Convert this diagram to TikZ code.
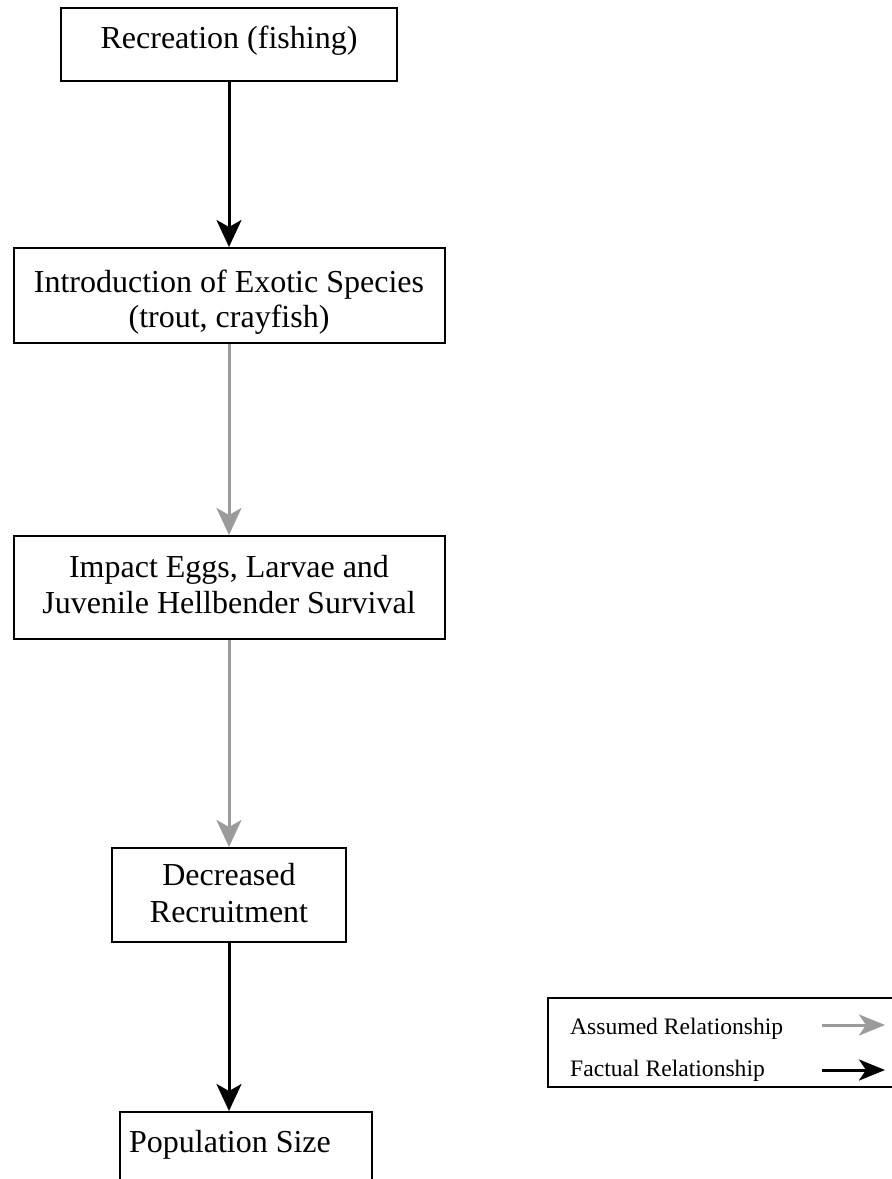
\documentclass[tikz,border=0pt]{standalone}
\usepackage{fontspec}
\setmainfont{Liberation Serif}
\usetikzlibrary{arrows.meta}
\definecolor{asmgray}{RGB}{155,155,155}
\begin{document}
\begin{tikzpicture}[x=1pt,y=-1pt,
  box/.style={draw=black, line width=2pt, inner sep=0pt},
  lbl/.style={anchor=base, inner sep=0pt, font=\fontsize{32}{36}\selectfont},
  legtxt/.style={anchor=base west, inner sep=0pt, font=\fontsize{23.6}{28}\selectfont},
  fact/.style={draw=black, line width=3pt, -{Stealth[length=27pt,width=25pt,inset=7pt]}},
  assm/.style={draw=asmgray, line width=3pt, -{Stealth[length=27pt,width=25pt,inset=7pt]}},
  legfact/.style={draw=black, line width=3pt, -{Stealth[length=26pt,width=21pt,inset=7pt]}},
  legassm/.style={draw=asmgray, line width=3pt, -{Stealth[length=26pt,width=21pt,inset=7pt]}},
]
\clip (0,0) rectangle (892,1179);
\fill[white] (0,0) rectangle (892,1179);

% boxes
\node[box, minimum width=336pt, minimum height=73pt] (b1) at (229,44.5) {};
\node[box, minimum width=431pt, minimum height=95pt] (b2) at (229,295.5) {};
\node[box, minimum width=431pt, minimum height=103pt] (b3) at (229,587.5) {};
\node[box, minimum width=234pt, minimum height=94pt] (b4) at (229,895) {};
\node[box, minimum width=252pt, minimum height=120pt] (b5) at (246,1172) {};

% texts
\node[lbl] (t1) at (229,48) {Recreation (fishing)};
\node[lbl] (t2a) at (229,292) {Introduction of Exotic Species};
\node[lbl] (t2b) at (229,327) {(trout, crayfish)};
\node[lbl] (t3a) at (229,577) {Impact Eggs, Larvae and};
\node[lbl] (t3b) at (229,613) {Juvenile Hellbender Survival};
\node[lbl] (t4a) at (229,885) {Decreased};
\node[lbl] (t4b) at (229,922) {Recruitment};
\node[lbl] (t5) at (230,1152) {Population Size};

% connectors
\draw[fact] (b1.south) -- (b2.north);
\draw[assm] (b2.south) -- (b3.north);
\draw[assm] (b3.south) -- (b4.north);
\draw[fact] (b4.south) -- (b4.south |- b5.north);

% legend
\node[draw=black, line width=2.5pt, inner sep=0pt, minimum width=360pt, minimum height=89pt] (leg) at (728,1042.5) {};
\node[legtxt] (la) at (570,1034) {Assumed Relationship};
\node[legtxt] (lf) at (570,1076) {Factual Relationship};
\coordinate (ga1) at (822,1025);
\coordinate (ga2) at (885,1025);
\coordinate (fa1) at (822,1070);
\coordinate (fa2) at (885,1070);
\draw[legassm] (ga1) -- (ga2);
\draw[legfact] (fa1) -- (fa2);
\end{tikzpicture}
\end{document}
